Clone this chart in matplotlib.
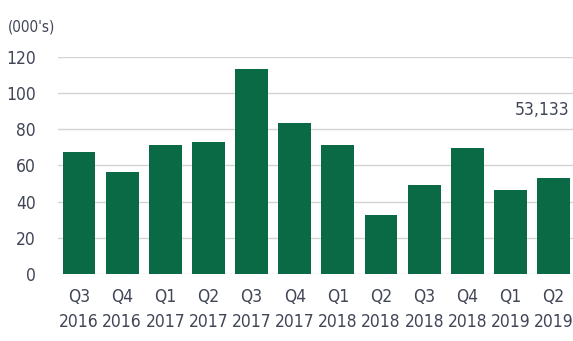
import matplotlib
matplotlib.use("Agg")
import matplotlib.pyplot as plt

# Quarterly volumes, thousands
quarters = ["Q3", "Q4", "Q1", "Q2", "Q3", "Q4", "Q1", "Q2", "Q3", "Q4", "Q1", "Q2"]
years = ["2016", "2016", "2017", "2017", "2017", "2017",
         "2018", "2018", "2018", "2018", "2019", "2019"]
values = [67.6, 56.5, 71.3, 73.1, 113.1, 83.6, 71.3, 32.4, 49.0, 69.4, 46.4, 53.133]
y_ticks = [0, 20, 40, 60, 80, 100, 120]

plt.rcParams["font.family"] = ["DejaVu Sans"]
plt.rcParams["font.stretch"] = "condensed"

BAR = "#0b6a46"
TEXT = "#404656"
GRID = "#d4d4d4"

fig = plt.figure(figsize=(5.73, 3.41), dpi=100)
ax = fig.add_axes([0.101, 0.1965, 0.899, 0.6365])

x = list(range(len(values)))
ax.bar(x, values, width=0.76, color=BAR, zorder=3)

ax.set_xlim(-0.49, len(values) - 0.55)
ax.set_ylim(0, 120)
ax.set_yticks(y_ticks)
ax.set_yticklabels([str(v) for v in y_ticks])
ax.set_xticks(x)
ax.set_xticklabels([f"{q}\n{y}" for q, y in zip(quarters, years)], linespacing=1.5)

ax.yaxis.grid(True, color=GRID, linewidth=1.0, zorder=0)
ax.set_axisbelow(True)
for s in ax.spines.values():
    s.set_visible(False)
ax.tick_params(axis="both", length=0, labelsize=12.5, colors=TEXT)
ax.tick_params(axis="y", pad=16)
ax.tick_params(axis="x", pad=10)

# latest quarter called out above its bar
ax.text(len(values) - 1 + 0.36, 90.5, f"{values[-1] * 1000:,.0f}",
        ha="right", va="center", fontsize=12.5, color=TEXT)

fig.text(0.014, 0.92, "(000's)", ha="left", va="center", fontsize=11, color=TEXT)

fig.savefig("out.png", dpi=100)
